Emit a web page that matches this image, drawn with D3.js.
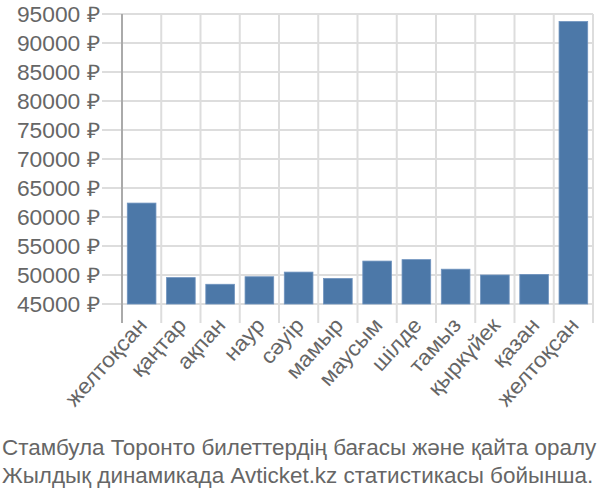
<!DOCTYPE html>
<html><head><meta charset="utf-8">
<script src="https://cdn.jsdelivr.net/npm/d3@7"></script>
<style>body{margin:0;background:#fff}svg{display:block}</style>
</head><body><svg id="c" width="600" height="500"></svg>
<script>
const categories = ["желтоқсан","қаңтар","ақпан","наур","сәуір","мамыр","маусым","шілде","тамыз","қыркүйек","қазан","желтоқсан"];
const values = [62400, 49550, 48400, 49700, 50500, 49400, 52400, 52650, 51000, 50000, 50100, 93700];
const yTicks = [45000,50000,55000,60000,65000,70000,75000,80000,85000,90000,95000];
const titleLines = ["Стамбула Торонто билеттердің бағасы және қайта оралу","Жылдық динамикада Avticket.kz статистикасы бойынша."];

const svg = d3.select("#c");
const font = "'Liberation Sans', Arial, sans-serif";
const x = d3.scaleBand().domain(d3.range(categories.length)).range([122, 593]).paddingInner(0.27).paddingOuter(0.135);
const xb = d3.scaleLinear().domain([0, categories.length]).range([122, 593]);
const y = d3.scaleLinear().domain([45000, 95000]).range([304, 14]);

svg.append("g").selectAll("line").data(yTicks).join("line")
  .attr("x1", 102).attr("x2", 593).attr("y1", d => y(d)).attr("y2", d => y(d))
  .attr("stroke", "#dddddd").attr("stroke-width", 2);
svg.append("g").selectAll("line").data(d3.range(1, categories.length + 1)).join("line")
  .attr("x1", d => xb(d)).attr("x2", d => xb(d)).attr("y1", 14).attr("y2", 323)
  .attr("stroke", "#dddddd").attr("stroke-width", 2);
svg.append("line").attr("x1", 122).attr("x2", 122).attr("y1", 14).attr("y2", 323)
  .attr("stroke", "#aaaaaa").attr("stroke-width", 2);

svg.append("g").selectAll("rect").data(values).join("rect")
  .attr("x", (d, i) => x(i)).attr("width", x.bandwidth())
  .attr("y", d => y(d)).attr("height", d => y(45000) - y(d))
  .attr("fill", "#4c78a8").attr("stroke", "#6f93bf").attr("stroke-width", 0.8);

svg.append("g").selectAll("text").data(yTicks).join("text")
  .attr("transform", d => `translate(100,${y(d)}) scale(1.06,1)`).attr("dy", "0.35em")
  .attr("text-anchor", "end").attr("font-family", font).attr("font-size", 21.5)
  .attr("fill", "#666").text(d => d + " ₽");

svg.append("g").selectAll("text").data(categories).join("text")
  .attr("transform", (d, i) => `translate(${x(i) + x.bandwidth() / 2 + 1},${321}) rotate(-48) scale(1.06,1)`)
  .attr("text-anchor", "end").attr("dy", "0.35em").attr("font-family", font).attr("font-size", 21.5)
  .attr("fill", "#666").text(d => d);

svg.append("g").selectAll("text").data(titleLines).join("text")
  .attr("transform", (d, i) => `translate(2,${455 + i * 28}) scale(1.06,1)`)
  .attr("font-family", font).attr("font-size", 21.2).attr("fill", "#666").text(d => d);
</script></body></html>
